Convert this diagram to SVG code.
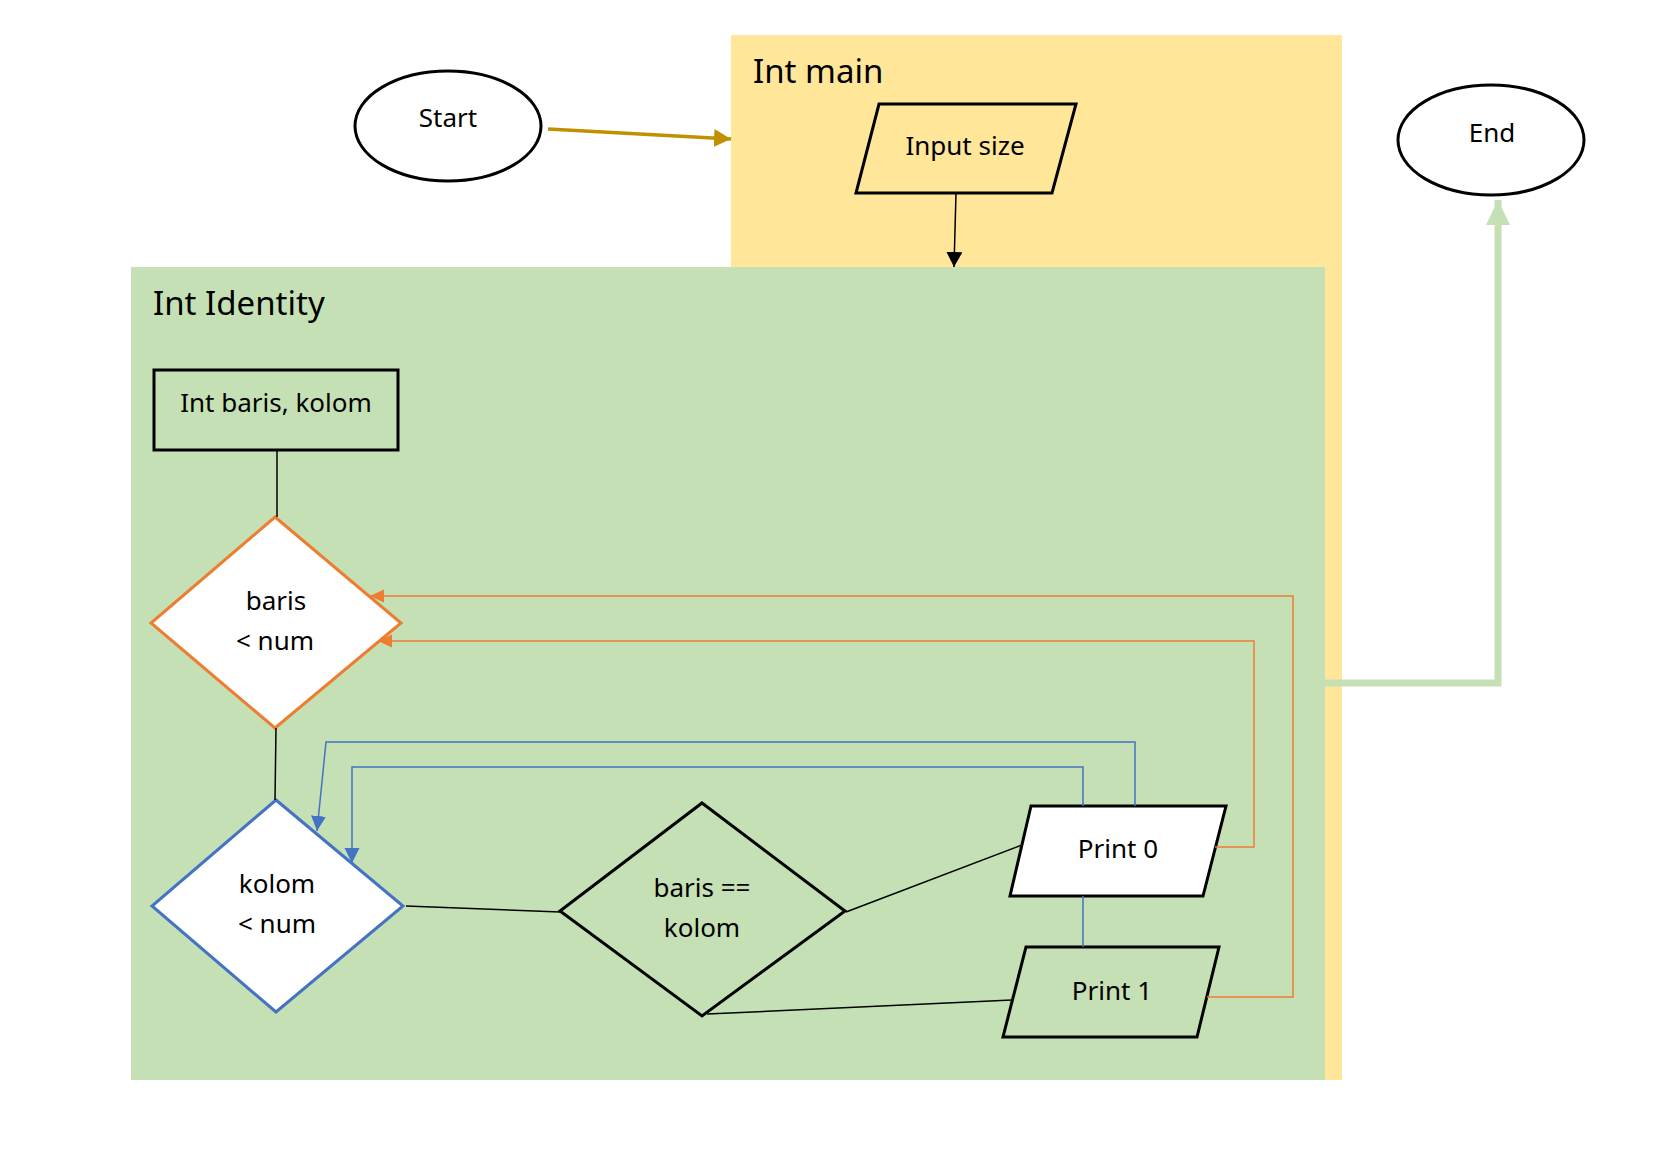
<svg xmlns="http://www.w3.org/2000/svg" width="1654" height="1166" viewBox="0 0 1654 1166">
<style>
  .lbl { font-family: "Noto Sans", "Open Sans", sans-serif; font-size: 26px; fill: #000; text-anchor: middle; }
  .title { font-family: "Noto Sans", "Open Sans", sans-serif; font-size: 33px; fill: #000; }
  .shape { stroke: #000; stroke-width: 3; }
  .thin { fill: none; stroke: #000; stroke-width: 1.5; }
  .orange { fill: none; stroke: #ED7D31; stroke-width: 1.5; }
  .blue { fill: none; stroke: #4472C4; stroke-width: 1.5; }
</style>
<defs>
  <marker id="mGold" markerUnits="userSpaceOnUse" markerWidth="18" markerHeight="18" refX="17" refY="9" orient="auto"><path d="M0,0 L17,9 L0,18 z" fill="#BF9000"/></marker>
  <marker id="mBlack" markerUnits="userSpaceOnUse" markerWidth="16" markerHeight="16" refX="15" refY="8" orient="auto"><path d="M0,0 L15,8 L0,16 z" fill="#000"/></marker>
  <marker id="mOrange" markerUnits="userSpaceOnUse" markerWidth="14" markerHeight="14" refX="14" refY="6.5" orient="auto"><path d="M0,0 L14,6.5 L0,13 z" fill="#ED7D31"/></marker>
  <marker id="mBlue" markerUnits="userSpaceOnUse" markerWidth="16" markerHeight="16" refX="15" refY="7.5" orient="auto"><path d="M0,0 L15,7.5 L0,15 z" fill="#4472C4"/></marker>
  <marker id="mGreen" markerUnits="userSpaceOnUse" markerWidth="26" markerHeight="26" refX="25" refY="12" orient="auto"><path d="M0,0 L25,12 L0,24 z" fill="#C5E0B4"/></marker>
</defs>
<rect width="1654" height="1166" fill="#fff"/>

<g id="int-main">
  <rect x="731" y="35" width="611" height="1045" fill="#FFE699"/>
  <text class="title" x="753" y="83">Int main</text>
</g>
<g id="int-identity">
  <rect x="131" y="267" width="1194" height="813" fill="#C5E0B4"/>
  <text class="title" x="153" y="315">Int Identity</text>
</g>

<g id="start">
  <ellipse cx="448" cy="126" rx="93" ry="55" fill="#fff" class="shape"/>
  <text class="lbl" x="448" y="127">Start</text>
</g>
<g id="end">
  <ellipse cx="1491" cy="140" rx="93" ry="55" fill="#fff" class="shape"/>
  <text class="lbl" x="1492" y="142">End</text>
</g>
<g id="input-size">
  <polygon points="879,104 1076,104 1052,193 856,193" fill="none" class="shape"/>
  <text class="lbl" x="965" y="155">Input size</text>
</g>
<g id="int-baris-kolom">
  <rect x="154" y="370" width="244" height="80" fill="none" class="shape"/>
  <text class="lbl" x="276" y="412">Int baris, kolom</text>
</g>
<g id="baris-lt-num">
  <polygon points="275,517 401,623 275,728 151,623" fill="#fff" stroke="#ED7D31" stroke-width="3"/>
  <text class="lbl" x="276" y="610">baris</text>
  <text class="lbl" x="275" y="650">&lt; num</text>
</g>
<g id="kolom-lt-num">
  <polygon points="276,800 403,906 276,1012 152,906" fill="#fff" stroke="#4472C4" stroke-width="3"/>
  <text class="lbl" x="277" y="893">kolom</text>
  <text class="lbl" x="277" y="933">&lt; num</text>
</g>
<g id="baris-eq-kolom">
  <polygon points="702,803 845,911 702,1016 560,911" fill="none" class="shape"/>
  <text class="lbl" x="702" y="897">baris ==</text>
  <text class="lbl" x="702" y="937">kolom</text>
</g>
<g id="print0">
  <polygon points="1031,806 1226,806 1203,896 1010,896" fill="#fff" class="shape"/>
  <text class="lbl" x="1118" y="858">Print 0</text>
</g>
<g id="print1">
  <polygon points="1026,947 1219,947 1197,1037 1003,1037" fill="none" class="shape"/>
  <text class="lbl" x="1112" y="1000">Print 1</text>
</g>

<g id="connectors">
  <line x1="548" y1="129" x2="731" y2="139" stroke="#BF9000" stroke-width="3.5" marker-end="url(#mGold)"/>
  <line x1="956" y1="193" x2="954" y2="267" class="thin" marker-end="url(#mBlack)"/>
  <path d="M1325,683 H1498 V200" fill="none" stroke="#C5E0B4" stroke-width="7" marker-end="url(#mGreen)"/>
  <line x1="277" y1="451" x2="277" y2="517" class="thin"/>
  <line x1="276" y1="728" x2="275" y2="800" class="thin"/>
  <line x1="406" y1="906" x2="560" y2="912" class="thin"/>
  <line x1="846" y1="912" x2="1022" y2="845" class="thin"/>
  <line x1="707" y1="1014" x2="1012" y2="1000" class="thin"/>
  <path d="M1207,997 H1293 V596 H370" class="orange" marker-end="url(#mOrange)"/>
  <path d="M1215,847 H1254 V641 H378" class="orange" marker-end="url(#mOrange)"/>
  <path d="M1135,806 V742 H326 L317,831" class="blue" marker-end="url(#mBlue)"/>
  <path d="M1083,806 V767 H352 V863" class="blue" marker-end="url(#mBlue)"/>
  <line x1="1083" y1="896" x2="1083" y2="947" class="blue"/>
</g>
</svg>
